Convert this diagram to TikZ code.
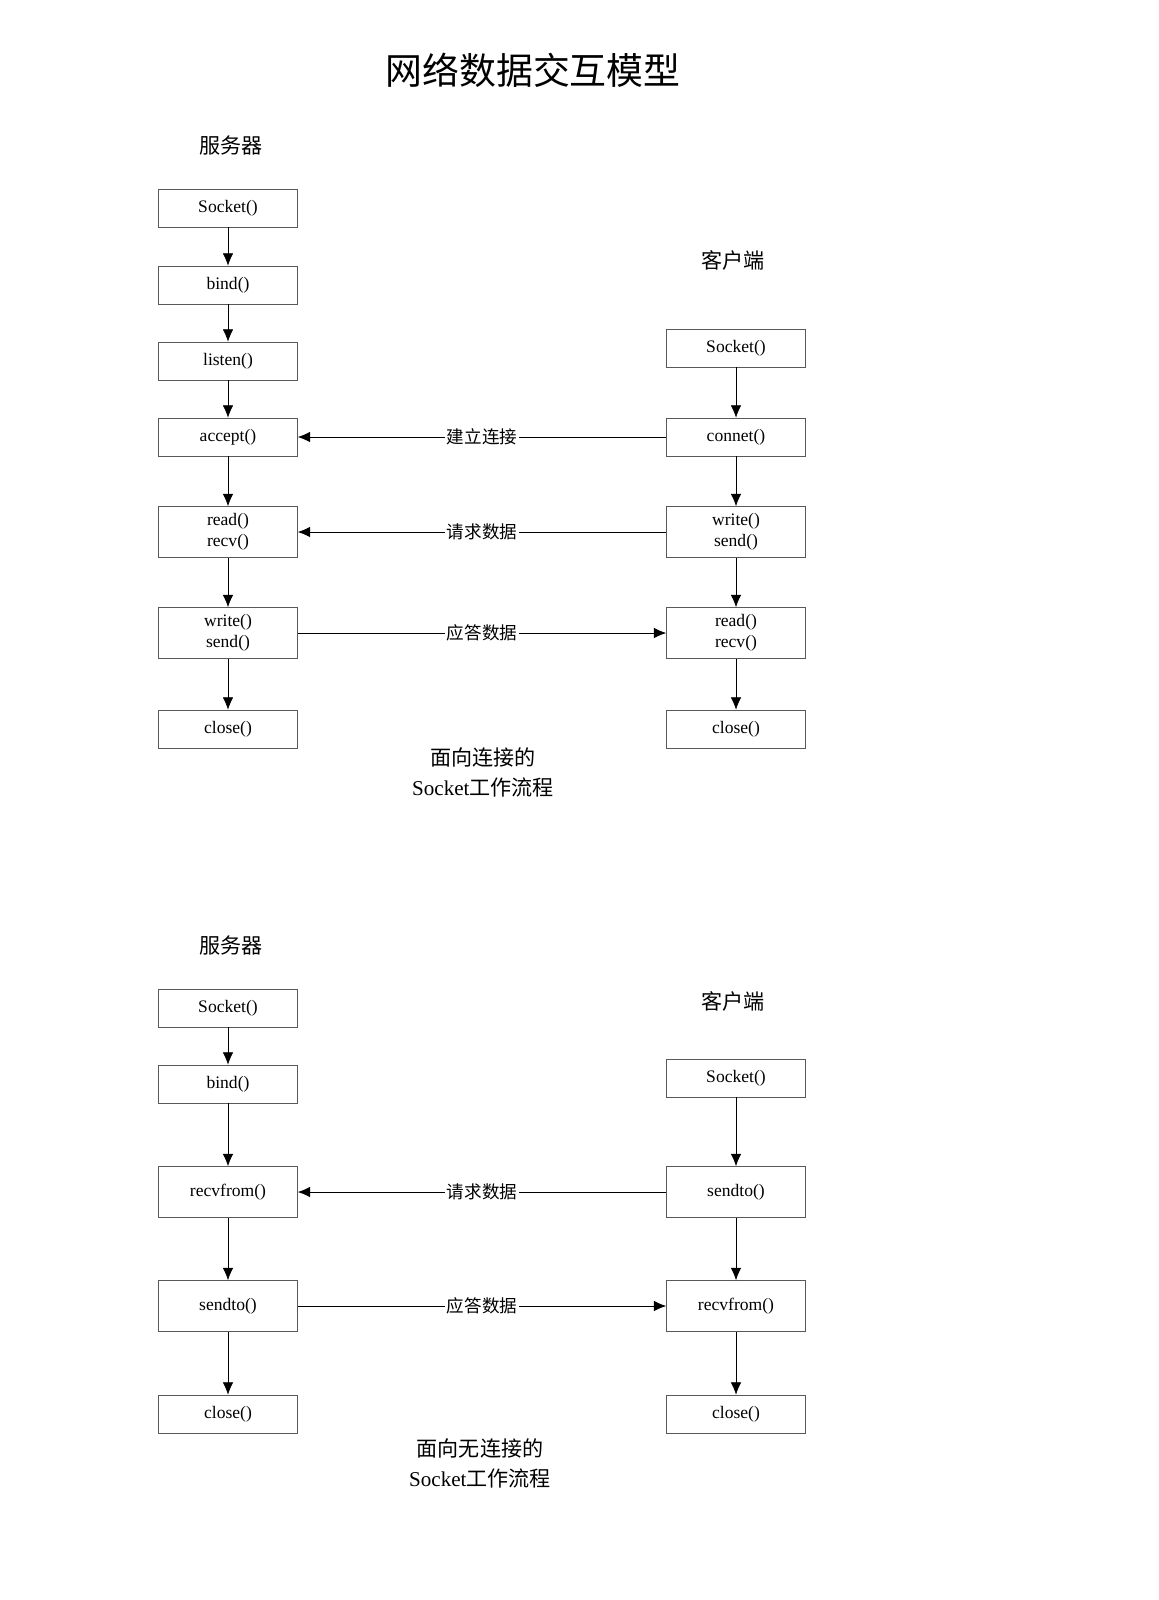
\documentclass[tikz,border=0pt]{standalone}
\usepackage{fontspec}
\setmainfont{Liberation Serif}
\newfontfamily\cjk{Noto Sans CJK SC}
\usetikzlibrary{arrows.meta}
\begin{document}
\begin{tikzpicture}
                [x=0.02cm, y=-0.02cm,
                 box/.style={draw, gray!70!black, text=black, minimum width=2.78cm, minimum height=0.76cm, inner sep=0pt, align=center, font=\fontsize{10}{12}\selectfont},
                 tall/.style={box, minimum height=1.02cm},
                 flow/.style={draw, -{Latex[length=7pt,width=6pt]}},
                 lbl/.style={fill=white, inner sep=1pt, font=\cjk\fontsize{10}{12}\selectfont},
                 head/.style={font=\cjk\fontsize{12}{14}\selectfont},
                 caption/.style={align=center, font=\fontsize{12}{17}\selectfont}]
                \useasboundingbox (0,0) rectangle (1159,1600);
                \node[font=\cjk\fontsize{21}{24}\selectfont] (title) at (533,70) {网络数据交互模型};
                % Connection-oriented: server
                \node[head] (srvA) at (231,145) {服务器};
                \node[box] (sSock) at (228,208) {Socket()};
                \node[box] (sBind) at (228,285) {bind()};
                \node[box] (sListen) at (228,361) {listen()};
                \node[box] (sAccept) at (228,437) {accept()};
                \node[tall] (sRead) at (228,532) {read()\\recv()};
                \node[tall] (sWrite) at (228,633) {write()\\send()};
                \node[box] (sClose) at (228,729) {close()};
                % Connection-oriented: client
                \node[head] (cliA) at (733,260) {客户端};
                \node[box] (cSock) at (736,348) {Socket()};
                \node[box] (cConn) at (736,437) {connet()};
                \node[tall] (cWrite) at (736,532) {write()\\send()};
                \node[tall] (cRead) at (736,633) {read()\\recv()};
                \node[box] (cClose) at (736,729) {close()};
                \node[caption] (capA) at (483,772) {{\cjk 面向连接的}\\Socket{\cjk 工作流程}};
                % Edges
                \draw[flow] (sSock) -- (sBind);
                \draw[flow] (sBind) -- (sListen);
                \draw[flow] (sListen) -- (sAccept);
                \draw[flow] (sAccept) -- (sRead);
                \draw[flow] (sRead) -- (sWrite);
                \draw[flow] (sWrite) -- (sClose);
                \draw[flow] (cSock) -- (cConn);
                \draw[flow] (cConn) -- (cWrite);
                \draw[flow] (cWrite) -- (cRead);
                \draw[flow] (cRead) -- (cClose);
                \draw[flow] (cConn) -- (sAccept) node[midway, lbl] {建立连接};
                \draw[flow] (cWrite) -- (sRead) node[midway, lbl] {请求数据};
                \draw[flow] (sWrite) -- (cRead) node[midway, lbl] {应答数据};
                % Connectionless: server
                \node[head] (srvB) at (231,945) {服务器};
                \node[box] (uSock) at (228,1008) {Socket()};
                \node[box] (uBind) at (228,1084) {bind()};
                \node[tall] (uRecv) at (228,1192) {recvfrom()};
                \node[tall] (uSend) at (228,1306) {sendto()};
                \node[box] (uClose) at (228,1414) {close()};
                % Connectionless: client
                \node[head] (cliB) at (733,1001) {客户端};
                \node[box] (vSock) at (736,1078) {Socket()};
                \node[tall] (vSend) at (736,1192) {sendto()};
                \node[tall] (vRecv) at (736,1306) {recvfrom()};
                \node[box] (vClose) at (736,1414) {close()};
                \node[caption] (capB) at (480,1463) {{\cjk 面向无连接的}\\Socket{\cjk 工作流程}};
                % Edges
                \draw[flow] (uSock) -- (uBind);
                \draw[flow] (uBind) -- (uRecv);
                \draw[flow] (uRecv) -- (uSend);
                \draw[flow] (uSend) -- (uClose);
                \draw[flow] (vSock) -- (vSend);
                \draw[flow] (vSend) -- (vRecv);
                \draw[flow] (vRecv) -- (vClose);
                \draw[flow] (vSend) -- (uRecv) node[midway, lbl] {请求数据};
                \draw[flow] (uSend) -- (vRecv) node[midway, lbl] {应答数据};
            \end{tikzpicture}
\end{document}
